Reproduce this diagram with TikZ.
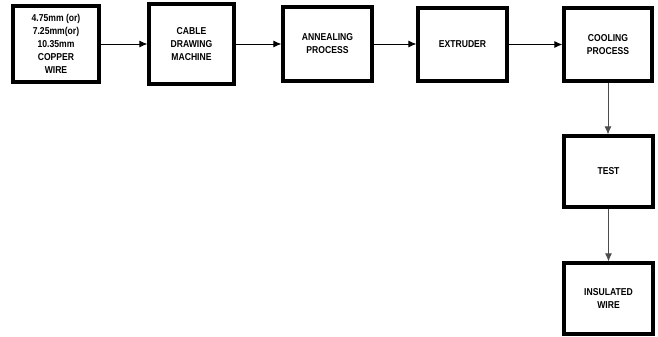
\documentclass[tikz,border=0pt]{standalone}
\usepackage{fontspec}
\setmainfont[FakeStretch=0.86]{Liberation Sans}
\usetikzlibrary{arrows.meta}
\begin{document}
\begin{tikzpicture}[x=1pt,y=-1pt,
  procbox/.style={draw=black, line width=3.2pt, fill=white, rectangle, align=center,
    font=\fontsize{10}{13}\selectfont\bfseries, inner sep=1pt},
  conn/.style={line width=0.9pt, -{Latex[length=8pt,width=7pt]}}]
\useasboundingbox (0,0) rectangle (658,337);
\node[procbox, minimum width=86pt, minimum height=76pt] (b1) at (56,44) {4.75mm (or)\\7.25mm(or)\\10.35mm\\COPPER\\WIRE};
\node[procbox, minimum width=85pt, minimum height=80pt] (b2) at (191.5,44) {CABLE\\DRAWING\\MACHINE};
\node[procbox, minimum width=89pt, minimum height=74pt] (b3) at (327.5,44) {ANNEALING\\PROCESS};
\node[procbox, minimum width=89pt, minimum height=73pt] (b4) at (462.5,44.5) {EXTRUDER};
\node[procbox, minimum width=88pt, minimum height=73pt] (b5) at (608,44.5) {COOLING\\PROCESS};
\node[procbox, minimum width=89pt, minimum height=71pt] (b6) at (608.5,171.5) {TEST};
\node[procbox, minimum width=89pt, minimum height=71pt] (b7) at (608.5,298.5) {INSULATED\\WIRE};
\draw[conn] (b1.east) -- (b1.east -| b2.west);
\draw[conn] (b2.east) -- (b2.east -| b3.west);
\draw[conn] (b3.east) -- (b3.east -| b4.west);
\draw[conn] (b4.east) -- (b4.east -| b5.west);
\draw[conn, draw=black!70, fill=black] (b5.south) -- (b5.south |- b6.north);
\draw[conn, draw=black!70, fill=black] (b6.south) -- (b6.south |- b7.north);
\end{tikzpicture}
\end{document}
